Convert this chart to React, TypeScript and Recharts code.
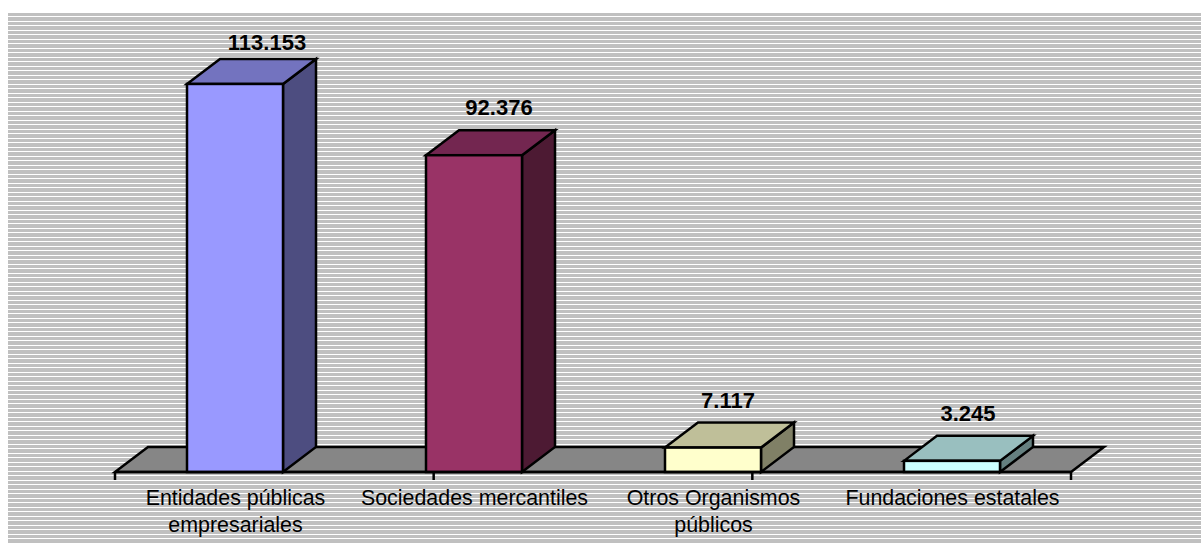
import React from 'react';
import { BarChart, Bar, XAxis, YAxis, LabelList, ReferenceArea } from 'recharts';

// values (thousands separator is a dot in the labels)
const categories = [
  'Entidades públicas\nempresariales',
  'Sociedades mercantiles',
  'Otros Organismos\npúblicos',
  'Fundaciones estatales',
];
const values = [113153, 92376, 7117, 3245];
const frontColors = ['#9999ff', '#993366', '#ffffcc', '#ccffff'];
const topColors = ['#7373bf', '#732650', '#bfbf99', '#99bfbf'];
const sideColors = ['#4d4d80', '#4d1a33', '#808066', '#668080'];
const edgeTicks = [0, 1, 2, 3, 4];

const data = categories.map((name, i) => ({ name, value: values[i] }));

const FONT = '"Liberation Sans", Arial, sans-serif';
const DX = 33; // 3D depth of the fake perspective
const DY = 25;
const FLOOR_DEPTH = 7290; // same 25px expressed in axis units
const LINE = 2.5;
const LABEL_SHIFT = [32, 25, 15, 16]; // labels are not centred on the top face in the original

const Box3D = (props: any) => {
  const { x, y, width, height, index } = props;
  const r = x + width;
  const b = y + height;
  return (
    <g stroke="#000" strokeWidth={LINE} strokeLinejoin="miter">
      <polygon points={`${r},${y} ${r + DX},${y - DY} ${r + DX},${b - DY} ${r},${b}`} fill={sideColors[index]} />
      <polygon points={`${x},${y} ${x + DX},${y - DY} ${r + DX},${y - DY} ${r},${y}`} fill={topColors[index]} />
      <rect x={x} y={y} width={width} height={height} fill={frontColors[index]} />
    </g>
  );
};

const Floor = (props: any) => {
  const { x, y, width, height } = props;
  return (
    <polygon
      points={`${x},${y + height} ${x + width},${y + height} ${x + width + DX},${y} ${x + DX},${y}`}
      fill="#868686"
      stroke="#000"
      strokeWidth={LINE}
    />
  );
};

const ValueLabel = (props: any) => {
  const { x, y, width, value, index } = props;
  // the top label sits against the chart's upper edge
  const baseline = Math.max(50, y - DY - 15);
  return (
    <text x={x + width / 2 + LABEL_SHIFT[index]} y={baseline} textAnchor="middle" fontFamily={FONT} fontSize={22} fontWeight="bold" fill="#000">
      {value.toLocaleString('de-DE')}
    </text>
  );
};

const CategoryTick = (props: any) => {
  const { x, y, payload } = props;
  return (
    <text textAnchor="middle" fontFamily={FONT} fontSize={21.4} fill="#000">
      {String(payload.value).split('\n').map((line: string, i: number) => (
        <tspan key={i} x={x + 1} y={y + 24 + i * 27}>
          {line}
        </tspan>
      ))}
    </text>
  );
};

export default function App() {
  return (
    <div style={{ position: 'absolute', left: 0, top: 0, width: 1201, height: 544, overflow: 'hidden', background: '#fff' }}>
      <div
        style={{
          position: 'absolute',
          left: 8,
          top: 13,
          right: 0,
          bottom: 0,
          background: 'repeating-linear-gradient(to bottom, #c0c0c0 0, #c0c0c0 3.2px, #fff 3.2px, #fff 4.5px)',
        }}
      />
      <BarChart
        width={1201}
        height={544}
        data={data}
        margin={{ top: 60.48, right: 130, bottom: 0, left: 115 }}
        style={{ position: 'absolute', left: 0, top: 0 }}
      >
        <YAxis hide domain={[0, 120000]} />
        <ReferenceArea xAxisId={1} y1={0} y2={FLOOR_DEPTH} shape={<Floor />} fillOpacity={1} />
        {/* axis line and the ticks on the band edges */}
        <XAxis
          xAxisId={0}
          type="number"
          domain={[0, 4]}
          ticks={edgeTicks}
          height={1}
          tickSize={8}
          axisLine={{ stroke: '#000', strokeWidth: LINE }}
          tickLine={{ stroke: '#000', strokeWidth: LINE }}
          tickFormatter={() => ''}
        />
        <XAxis
          xAxisId={1}
          dataKey="name"
          height={71}
          interval={0}
          tickLine={false}
          axisLine={false}
          tick={<CategoryTick />}
        />
        <Bar xAxisId={1} dataKey="value" barSize={96} shape={<Box3D />} isAnimationActive={false}>
          <LabelList dataKey="value" content={<ValueLabel />} />
        </Bar>
      </BarChart>
    </div>
  );
}
